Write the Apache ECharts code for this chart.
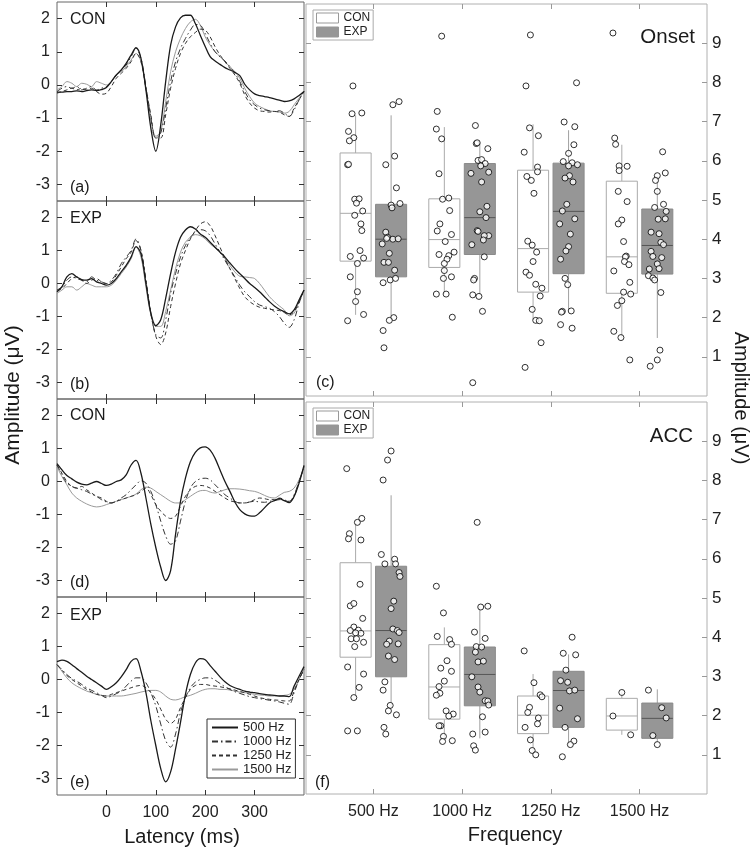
<!DOCTYPE html>
<html><head><meta charset="utf-8">
<script src="https://cdn.jsdelivr.net/npm/echarts@6/dist/echarts.min.js"></script>
<style>html,body{margin:0;padding:0;background:#fff}#c{width:753px;height:850px}</style>
</head><body><div id="c"></div><script>
const FONT = '"Liberation Sans", Arial, Helvetica, sans-serif';

// ---------- Waveforms (latency in ms, amplitude in µV) ----------
const latency = [-100,-90,-80,-70,-60,-50,-40,-30,-20,-10,0,10,20,30,40,50,60,70,80,90,100,110,120,130,140,150,160,170,180,190,200,210,220,230,240,250,260,270,280,290,300,310,320,330,340,350,360,370,380,390,400];
const freqNames = ['500 Hz','1000 Hz','1250 Hz','1500 Hz'];

// (a) CON onset
const conOnset500  = [-0.22,-0.22,-0.2,-0.2,-0.18,-0.2,-0.17,-0.15,-0.17,-0.14, -0.08,0.1,0.3,0.45,0.65,0.9,1.12,0.8,-0.15,-1.3, -2.0,-1.2,0.1,1.2,1.75,2.02,2.1,2.1,1.85,1.5, 1.16,0.85,0.72,0.62,0.52,0.45,0.38,0.28,0.02,-0.15, -0.27,-0.32,-0.35,-0.38,-0.42,-0.46,-0.5,-0.48,-0.42,-0.32, -0.2];
const conOnset1000 = [-0.2,-0.1,-0.05,-0.1,-0.05,-0.15,-0.1,-0.05,-0.15,-0.1, -0.05,0.1,0.3,0.45,0.6,0.85,1.1,0.8,-0.05,-1.0, -1.6,-1.45,-0.7,0.1,0.7,1.1,1.4,1.65,1.82,1.8, 1.55,1.25,1.0,0.85,0.72,0.55,0.35,0.1,-0.2,-0.45, -0.6,-0.7,-0.75,-0.78,-0.8,-0.78,-0.85,-0.95,-0.75,-0.45, -0.2];
const conOnset1250 = [-0.25,-0.2,-0.15,-0.1,-0.15,-0.1,-0.15,-0.1,-0.2,-0.28, -0.25,-0.05,0.2,0.35,0.5,0.7,0.95,0.7,-0.1,-0.9, -1.6,-1.6,-0.9,-0.1,0.5,0.95,1.25,1.45,1.58,1.68, 1.65,1.45,1.15,0.9,0.7,0.5,0.3,0.05,-0.3,-0.55, -0.7,-0.78,-0.8,-0.82,-0.8,-0.82,-0.9,-0.95,-0.7,-0.45, -0.2];
const conOnset1500 = [-0.15,-0.05,0.1,0.05,-0.05,0.05,0.02,-0.05,0.1,0.05, 0.0,0.1,0.3,0.4,0.55,0.75,0.95,0.7,-0.1,-1.0, -1.55,-1.4,-0.5,0.4,1.0,1.4,1.7,1.9,1.98,1.8, 1.45,1.2,1.0,0.85,0.7,0.55,0.4,0.2,-0.1,-0.35, -0.55,-0.65,-0.72,-0.78,-0.8,-0.82,-0.85,-0.8,-0.6,-0.4, -0.2];
// (b) EXP onset
const expOnset500  = [-0.25,-0.1,0.2,0.3,0.2,0.12,0.1,0.15,0.05,0.0, -0.05,0.0,0.15,0.35,0.55,0.8,1.12,0.9,0.0,-0.9, -1.28,-1.1,-0.45,0.3,0.95,1.4,1.62,1.72,1.65,1.5, 1.4,1.25,1.1,0.95,0.8,0.62,0.45,0.3,0.15,0.0, -0.12,-0.25,-0.4,-0.55,-0.68,-0.78,-0.85,-0.92,-0.8,-0.5, -0.2];
const expOnset1000 = [-0.2,-0.1,0.1,0.2,0.15,0.1,0.05,0.2,0.1,0.05, 0.0,0.1,0.3,0.6,0.8,1.0,1.35,1.0,0.1,-0.9, -1.55,-1.65,-1.1,-0.3,0.3,0.8,1.15,1.4,1.55,1.63, 1.6,1.45,1.2,0.95,0.7,0.45,0.2,-0.05,-0.25,-0.4, -0.55,-0.65,-0.7,-0.75,-0.85,-1.0,-1.2,-1.33,-1.1,-0.6, -0.2];
const expOnset1250 = [-0.2,-0.15,0.0,0.15,0.2,0.1,0.0,0.1,0.15,0.05, 0.0,0.05,0.25,0.5,0.75,0.95,1.3,1.0,0.1,-0.9, -1.6,-1.85,-1.5,-0.7,0.0,0.6,1.0,1.35,1.6,1.8, 1.87,1.75,1.45,1.1,0.75,0.45,0.15,-0.15,-0.4,-0.55, -0.65,-0.72,-0.75,-0.78,-0.8,-0.82,-0.88,-0.95,-0.85,-0.55, -0.2];
const expOnset1500 = [-0.3,-0.2,-0.1,-0.1,-0.2,-0.1,0.0,-0.05,-0.1,-0.1, -0.1,-0.05,0.1,0.3,0.5,0.75,1.1,0.8,-0.1,-0.95, -1.3,-1.3,-0.85,-0.2,0.45,0.95,1.25,1.4,1.48,1.45, 1.35,1.2,1.08,0.95,0.75,0.55,0.35,0.22,0.2,0.18, 0.15,0.0,-0.2,-0.4,-0.55,-0.68,-0.8,-0.98,-0.9,-0.55, -0.2];
// (d) CON ACC
const conAcc500  = [0.54,0.35,0.18,0.08,-0.02,-0.08,-0.1,-0.05,0.0,-0.06, -0.12,-0.08,0.0,0.05,0.2,0.5,0.64,0.25,-0.5,-1.3, -2.0,-2.6,-3.0,-2.7,-1.6,-0.6,0.1,0.6,0.88,1.02, 1.05,0.95,0.7,0.35,0.0,-0.3,-0.62,-0.85,-0.98,-1.04, -1.05,-0.95,-0.8,-0.65,-0.58,-0.52,-0.58,-0.64,-0.45,-0.05, 0.49];
const conAcc1000 = [0.5,0.2,-0.05,-0.15,-0.2,-0.25,-0.3,-0.38,-0.45,-0.55, -0.62,-0.65,-0.6,-0.5,-0.4,-0.25,-0.1,0.02,-0.05,-0.3, -0.7,-1.2,-1.65,-1.9,-1.8,-1.2,-0.6,-0.2,0.0,0.08, 0.1,0.05,-0.1,-0.25,-0.4,-0.5,-0.6,-0.65,-0.65,-0.62, -0.6,-0.62,-0.63,-0.6,-0.58,-0.55,-0.58,-0.6,-0.4,0.0, 0.45];
const conAcc1250 = [0.5,0.25,0.0,-0.15,-0.2,-0.15,-0.25,-0.35,-0.45,-0.5, -0.6,-0.65,-0.6,-0.55,-0.5,-0.45,-0.4,-0.3,-0.2,-0.4, -0.7,-0.9,-1.05,-1.12,-1.05,-0.75,-0.45,-0.25,-0.15,-0.12, -0.14,-0.2,-0.3,-0.4,-0.5,-0.58,-0.62,-0.65,-0.65,-0.62, -0.55,-0.5,-0.52,-0.55,-0.55,-0.5,-0.55,-0.62,-0.45,0.0, 0.45];
const conAcc1500 = [0.44,0.15,-0.1,-0.35,-0.5,-0.6,-0.68,-0.74,-0.77,-0.75, -0.7,-0.65,-0.6,-0.55,-0.5,-0.45,-0.38,-0.25,-0.17,-0.2, -0.3,-0.4,-0.5,-0.6,-0.65,-0.65,-0.55,-0.45,-0.35,-0.28, -0.27,-0.32,-0.35,-0.3,-0.25,-0.22,-0.22,-0.23,-0.25,-0.28, -0.3,-0.35,-0.42,-0.48,-0.5,-0.42,-0.33,-0.3,-0.2,0.05, 0.4];
// (e) EXP ACC
const expAcc500  = [0.54,0.59,0.55,0.45,0.33,0.22,0.1,0.0,-0.1,-0.2, -0.3,-0.22,-0.1,0.08,0.3,0.55,0.63,0.25,-0.4,-1.25, -2.0,-2.7,-3.1,-2.8,-2.1,-1.3,-0.45,0.15,0.5,0.63, 0.6,0.42,0.25,0.08,-0.07,-0.18,-0.25,-0.3,-0.35,-0.38, -0.4,-0.43,-0.45,-0.47,-0.48,-0.5,-0.5,-0.52,-0.2,0.1, 0.39];
const expAcc1000 = [0.45,0.3,0.15,0.03,-0.05,-0.15,-0.25,-0.33,-0.4,-0.48, -0.55,-0.5,-0.43,-0.35,-0.2,-0.05,0.05,0.05,-0.1,-0.4, -0.8,-1.35,-1.85,-2.05,-1.65,-1.0,-0.55,-0.25,-0.08,0.0, 0.05,0.05,-0.02,-0.12,-0.22,-0.3,-0.37,-0.42,-0.47,-0.52, -0.55,-0.58,-0.6,-0.63,-0.65,-0.68,-0.72,-0.75,-0.4,0.0, 0.3];
const expAcc1250 = [0.45,0.28,0.12,0.0,-0.1,-0.2,-0.3,-0.38,-0.45,-0.48, -0.5,-0.45,-0.4,-0.35,-0.3,-0.25,-0.2,-0.18,-0.25,-0.4, -0.6,-0.9,-1.2,-1.33,-1.2,-0.85,-0.55,-0.3,-0.18,-0.15, -0.15,-0.18,-0.2,-0.22,-0.25,-0.28,-0.32,-0.36,-0.4,-0.45, -0.5,-0.55,-0.58,-0.6,-0.62,-0.63,-0.65,-0.65,-0.35,0.0, 0.3];
const expAcc1500 = [0.45,0.25,0.05,-0.1,-0.2,-0.28,-0.35,-0.4,-0.45,-0.48, -0.5,-0.5,-0.5,-0.5,-0.48,-0.45,-0.42,-0.38,-0.35,-0.33, -0.33,-0.38,-0.5,-0.6,-0.62,-0.58,-0.52,-0.48,-0.42,-0.35, -0.3,-0.28,-0.28,-0.3,-0.3,-0.32,-0.35,-0.38,-0.4,-0.42, -0.45,-0.47,-0.48,-0.5,-0.5,-0.5,-0.48,-0.45,-0.3,0.0, 0.35];

// ---------- Box plots: [lowWhisker, Q1, median, Q3, highWhisker] per frequency ----------
const onsetConBox = [[2.07,3.44,4.66,6.2,7.16],[2.6,3.28,3.99,5.03,6.86],[1.94,2.65,3.76,5.76,6.93],[1.48,2.62,3.55,5.48,6.41]];
const onsetExpBox = [[2.0,3.04,4.0,4.89,7.16],[2.6,3.61,4.55,5.93,6.45],[2.18,3.12,4.71,5.94,6.78],[1.48,3.11,3.84,4.77,5.61]];
const accConBox   = [[2.47,3.49,4.16,5.9,6.9],[1.38,1.91,2.73,3.81,4.25],[1.04,1.54,2.01,2.5,3.06],[1.51,1.63,1.99,2.44,2.61]];
const accExpBox   = [[2.2,2.99,4.17,5.81,7.62],[1.42,2.25,3.05,3.75,4.78],[1.25,1.7,2.64,3.13,3.56],[1.3,1.42,1.93,2.32,2.67]];

// ---------- Individual points: [frequency axis coordinate (jittered), amplitude] ----------
const onsetConPts = [
[0.77,7.91],[0.76,7.2],[0.87,7.22],[0.72,6.75],[0.78,6.59],[0.73,6.51],[0.71,5.9],[0.72,5.91],[0.79,5.02],[0.84,5.03],[0.81,4.92],[0.88,4.72],[0.79,4.61],[0.86,4.39],[0.87,4.22],[0.85,3.71],[0.74,3.56],[0.89,3.52],[0.82,3.38],[0.74,3.04],[0.82,2.66],[0.8,2.41],[0.89,2.08],[0.71,1.92],
[1.77,9.18],[1.72,7.26],[1.71,6.81],[1.77,6.56],[1.74,5.67],[1.78,5.02],[1.85,5.05],[1.86,4.73],[1.75,4.39],[1.72,4.21],[1.88,4.12],[1.81,3.94],[1.91,3.67],[1.74,3.61],[1.85,3.58],[1.83,3.49],[1.8,3.38],[1.8,3.2],[1.79,3.0],[1.88,3.04],[1.71,2.6],[1.82,2.6],[1.89,2.01],
[2.77,9.21],[2.72,7.91],[2.76,6.84],[2.86,6.64],[2.7,6.22],[2.85,5.84],[2.85,5.72],[2.73,5.6],[2.78,5.5],[2.81,5.17],[2.74,3.95],[2.79,3.85],[2.84,3.67],[2.8,3.43],[2.72,3.16],[2.76,3.08],[2.83,2.85],[2.9,2.75],[2.88,2.55],[2.79,2.21],[2.83,1.93],[2.87,1.92],[2.89,1.36],[2.71,0.73],
[3.7,9.26],[3.72,6.58],[3.73,6.42],[3.77,5.87],[3.77,5.75],[3.86,5.86],[3.76,5.22],[3.86,4.96],[3.8,4.49],[3.76,4.39],[3.82,3.94],[3.85,3.57],[3.84,3.55],[3.83,3.43],[3.88,3.35],[3.71,3.19],[3.89,2.9],[3.82,2.65],[3.9,2.6],[3.8,2.43],[3.75,2.31],[3.71,1.65],[3.79,1.49],[3.89,0.92]
];
const onsetExpPts = [
[1.22,7.43],[1.29,7.51],[1.24,6.12],[1.14,5.9],[1.26,5.31],[1.2,4.87],[1.21,4.8],[1.3,4.91],[1.14,4.18],[1.16,4.05],[1.1,3.88],[1.22,4.0],[1.28,4.01],[1.15,4.02],[1.18,3.64],[1.12,3.41],[1.17,3.41],[1.24,3.21],[1.11,2.89],[1.19,2.96],[1.25,3.0],[1.23,2.0],[1.18,1.93],[1.11,1.67],[1.12,1.23],
[2.15,6.9],[2.16,6.44],[2.17,6.46],[2.29,6.31],[2.18,6.01],[2.22,6.03],[2.26,5.93],[2.21,5.87],[2.1,5.68],[2.3,5.71],[2.22,5.46],[2.28,4.84],[2.2,4.7],[2.27,4.55],[2.17,4.22],[2.18,4.2],[2.3,4.09],[2.25,4.09],[2.24,3.98],[2.11,3.86],[2.25,3.55],[2.14,3.0],[2.13,2.96],[2.12,2.58],[2.19,2.54],[2.23,2.16],[2.12,0.34],
[3.29,7.99],[3.15,6.99],[3.27,6.87],[3.26,6.41],[3.2,6.19],[3.14,5.98],[3.24,5.95],[3.3,5.9],[3.2,5.87],[3.21,5.62],[3.16,5.56],[3.25,5.46],[3.18,4.89],[3.13,4.72],[3.1,4.39],[3.27,4.52],[3.22,4.13],[3.2,3.81],[3.17,3.7],[3.11,3.49],[3.16,3.0],[3.19,2.84],[3.13,2.16],[3.12,2.14],[3.23,2.17],[3.11,1.82],[3.24,1.73],
[4.26,6.23],[4.29,5.69],[4.2,5.62],[4.18,5.5],[4.2,5.22],[4.27,4.89],[4.17,4.81],[4.3,4.71],[4.21,4.51],[4.29,4.52],[4.13,4.18],[4.22,4.14],[4.24,3.92],[4.27,3.86],[4.13,3.69],[4.15,3.56],[4.25,3.53],[4.2,3.37],[4.22,3.25],[4.11,3.24],[4.1,3.07],[4.15,3.01],[4.17,2.96],[4.24,2.64],[4.23,1.17],[4.2,0.92],[4.12,0.76]
];
const accConPts = [
[0.7,8.3],[0.82,6.93],[0.87,7.03],[0.73,6.64],[0.72,6.51],[0.86,6.48],[0.85,5.35],[0.74,4.8],[0.78,4.86],[0.88,4.48],[0.78,4.26],[0.83,4.18],[0.74,4.17],[0.86,4.1],[0.8,4.11],[0.75,3.96],[0.81,3.96],[0.89,3.87],[0.79,3.76],[0.71,3.24],[0.89,3.06],[0.84,2.72],[0.78,2.46],[0.71,1.61],[0.82,1.61],
[1.71,5.3],[1.79,4.62],[1.72,4.02],[1.86,3.94],[1.88,3.82],[1.83,3.4],[1.76,3.21],[1.88,3.13],[1.8,2.88],[1.74,2.74],[1.75,2.57],[1.71,2.52],[1.82,2.12],[1.9,2.04],[1.85,1.99],[1.76,1.74],[1.74,1.74],[1.79,1.47],[1.89,1.36],[1.78,1.34],
[2.7,3.65],[2.81,2.84],[2.88,2.53],[2.9,2.48],[2.76,2.21],[2.74,2.08],[2.86,1.94],[2.85,1.79],[2.71,1.7],[2.77,1.38],[2.79,1.11],[2.83,1.0],
[3.8,2.59],[3.7,1.99],[3.9,1.51]
];
const accExpPts = [
[1.2,8.75],[1.16,8.52],[1.11,8.01],[1.09,6.11],[1.13,5.87],[1.24,5.99],[1.25,5.87],[1.29,5.65],[1.3,5.55],[1.23,4.92],[1.2,4.73],[1.22,4.21],[1.27,4.17],[1.29,4.12],[1.18,3.9],[1.15,3.82],[1.28,3.83],[1.17,3.52],[1.24,3.43],[1.13,2.86],[1.11,2.65],[1.19,2.26],[1.17,2.12],[1.26,2.02],[1.12,1.7],[1.14,1.53],
[2.17,6.93],[2.29,4.79],[2.21,4.77],[2.14,4.13],[2.26,3.97],[2.16,3.76],[2.22,3.75],[2.15,3.62],[2.18,3.37],[2.24,3.39],[2.11,2.99],[2.18,2.73],[2.2,2.6],[2.26,2.38],[2.29,2.37],[2.3,2.27],[2.23,1.97],[2.12,1.53],[2.26,1.58],[2.13,1.23],[2.15,1.12],
[3.24,4.0],[3.14,3.59],[3.28,3.55],[3.17,3.16],[3.11,2.89],[3.19,2.85],[3.21,2.63],[3.27,2.65],[3.1,2.19],[3.3,1.92],[3.16,1.7],[3.26,1.35],[3.22,1.26],[3.13,0.95],
[4.1,2.65],[4.25,2.2],[4.3,1.94],[4.15,1.49],[4.2,1.26]
];

const latTicks = [0,100,200,300];
const ampTicksL = [-3,-2,-1,0,1,2];
const ampTicksR = [1,2,3,4,5,6,7,8,9];
const freqTicks = [1,2,3,4];

// ---------- layout ----------
const grids = [
  {left:57, top:2,   width:247, height:199},
  {left:57, top:201, width:247, height:198},
  {left:57, top:399, width:247, height:198},
  {left:57, top:597, width:247, height:198},
  {left:306, top:4,  width:401, height:392},
  {left:306, top:402, width:401, height:392}
].map((g,i)=>Object.assign(g,{show:true, borderColor: i<4?'#666':'#b0b0b0', borderWidth:1}));

const xAxes=[], yAxes=[];
for (let g=0; g<6; g++){
  const left = g<4;
  const tickCol = left ? '#333' : '#999';
  const xBase = left ? {min:-100,max:400} : {min:0.241,max:4.76};
  const xt = left ? latTicks : freqTicks;
  ['bottom','top'].forEach((pos,k)=>{
    xAxes.push(Object.assign({gridIndex:g, type:'value', position:pos,
      axisLine:{show:false, onZero:false}, splitLine:{show:false},
      axisTick:{show:true, inside:true, length:5, customValues:xt, lineStyle:{color:tickCol, width:1}},
      axisLabel:{show: k===0 && (g===3||g===5), customValues:xt, margin:10,
        fontSize:16, color:'#222', fontFamily:FONT,
        formatter: left ? (v=>String(v)) : (v=>freqNames[Math.round(v)-1])}
    }, xBase));
  });
  const yBase = left ? {min:-3.5,max:2.5} : {min:0,max:10};
  const yt = left ? ampTicksL : ampTicksR;
  ['left','right'].forEach((pos,k)=>{
    const showLab = left ? k===0 : k===1;
    yAxes.push(Object.assign({gridIndex:g, type:'value', position:pos,
      axisLine:{show:false, onZero:false}, splitLine:{show:false},
      axisTick:{show:true, inside:true, length:5, customValues:yt, lineStyle:{color:tickCol, width:1}},
      axisLabel:{show:showLab, customValues:yt, margin: left?7:5, fontSize: left?16:17, color:'#222', fontFamily:FONT}
    }, yBase));
  });
}

// ---------- series ----------
const lineStyles = [
  {color:'#1a1a1a', width:1.3, type:'solid'},
  {color:'#333', width:1, type:[6,3,1.5,3]},
  {color:'#333', width:1, type:[4,3]},
  {color:'#9a9a9a', width:1, type:'solid'}
];
const waveSets = [
  [conOnset500, conOnset1000, conOnset1250, conOnset1500],
  [expOnset500, expOnset1000, expOnset1250, expOnset1500],
  [conAcc500, conAcc1000, conAcc1250, conAcc1500],
  [expAcc500, expAcc1000, expAcc1250, expAcc1500]
];
const series = [];
waveSets.forEach((set,g)=>{
  set.forEach((arr,f)=>{
    series.push({type:'line', name:freqNames[f], xAxisIndex:2*g, yAxisIndex:2*g,
      data: latency.map((t,i)=>[t,arr[i]]), showSymbol:false, symbol:'none', smooth:0.35,
      lineStyle:lineStyles[f], itemStyle:{color:lineStyles[f].color}, z: 4-f, silent:true});
  });
});

function boxSeries(name, g, box, offset, fill, border, med, whisk){
  return {type:'custom', name, xAxisIndex:2*g, yAxisIndex:2*g+1, z:2,
    itemStyle:{color:fill, borderColor:border},
    data: box.map((r,i)=>[i+1].concat(r)),
    encode:{x:0, y:[1,2,3,4,5]},
    renderItem:(params, api)=>{
      const c = api.value(0)+offset;
      const lo=api.coord([c,api.value(1)]), q1=api.coord([c,api.value(2)]), md=api.coord([c,api.value(3)]),
            q3=api.coord([c,api.value(4)]), hi=api.coord([c,api.value(5)]);
      const w = api.size([0.35,0])[0];
      const x0 = q1[0]-w/2;
      return {type:'group', children:[
        {type:'line', shape:{x1:lo[0],y1:lo[1],x2:q1[0],y2:q1[1]}, style:{stroke:whisk, lineWidth:1}},
        {type:'line', shape:{x1:q3[0],y1:q3[1],x2:hi[0],y2:hi[1]}, style:{stroke:whisk, lineWidth:1}},
        {type:'rect', shape:{x:x0,y:q3[1],width:w,height:q1[1]-q3[1]}, style:{fill:fill, stroke:border, lineWidth:1}},
        {type:'line', shape:{x1:x0,y1:md[1],x2:x0+w,y2:md[1]}, style:{stroke:med, lineWidth:1}}
      ]};
    }};
}
series.push(boxSeries('CON',4,onsetConBox,-0.2,'#ffffff','#aaaaaa','#aaaaaa','#aaaaaa'));
series.push(boxSeries('EXP',4,onsetExpBox, 0.2,'#969696','#8a8a8a','#555555','#a0a0a0'));
series.push(boxSeries('CON',5,accConBox,-0.2,'#ffffff','#aaaaaa','#aaaaaa','#aaaaaa'));
series.push(boxSeries('EXP',5,accExpBox, 0.2,'#969696','#8a8a8a','#555555','#a0a0a0'));

function ptSeries(g, pts){
  return {type:'scatter', name:'pts', xAxisIndex:2*g, yAxisIndex:2*g+1, data:pts, symbol:'circle', symbolSize:6,
    itemStyle:{color:'#ffffff', borderColor:'#000000', borderWidth:1}, z:5, silent:true};
}
series.push(ptSeries(4,onsetConPts), ptSeries(4,onsetExpPts), ptSeries(5,accConPts), ptSeries(5,accExpPts));

// ---------- legends ----------
const boxLegendData = [
  {name:'CON', icon:'rect', itemStyle:{color:'#ffffff', borderColor:'#999', borderWidth:1}},
  {name:'EXP', icon:'rect', itemStyle:{color:'#969696', borderColor:'#969696', borderWidth:1}}
];
const boxLegend = top => ({left:313, top, orient:'vertical', data:boxLegendData, itemWidth:22, itemHeight:10,
  itemGap:2, padding:[2,3,2,3], borderColor:'#aaa', borderWidth:1, selectedMode:false,
  textStyle:{fontSize:12, color:'#222', fontFamily:FONT}});
const legends = [
  boxLegend(10), boxLegend(408),
  {left:207, top:719, orient:'vertical', data:freqNames, itemWidth:26, itemHeight:10, itemGap:1,
   padding:[2,4,2,4], borderColor:'#333', borderWidth:1, selectedMode:false,
   itemStyle:{opacity:0},
   textStyle:{fontSize:13, color:'#222', fontFamily:FONT}}
];

// ---------- text annotations ----------
function txt(x,y,text,size,opt){
  return Object.assign({type:'text', x, y, z:10, style:{text, fontSize:size, fontFamily:FONT, fill:'#1a1a1a',
    textAlign:(opt&&opt.align)||'left', textVerticalAlign:'middle'}}, opt&&opt.rot!==undefined?{rotation:opt.rot}:{});
}
const graphics = [
  txt(70,20,'CON',16), txt(70,188,'(a)',16),
  txt(70,219,'EXP',16), txt(70,385,'(b)',16),
  txt(70,416,'CON',16), txt(70,583,'(d)',16),
  txt(70,616,'EXP',16), txt(70,783,'(e)',16),
  txt(316,383,'(c)',16), txt(315,783,'(f)',16),
  txt(695,37,'Onset',20.5,{align:'right'}), txt(693,436,'ACC',20.5,{align:'right'}),
  txt(182,837,'Latency (ms)',20,{align:'center'}),
  txt(515,835,'Frequency',20,{align:'center'}),
  txt(13,395,'Amplitude (μV)',21,{align:'center', rot:Math.PI/2}),
  txt(741,398,'Amplitude (μV)',20,{align:'center', rot:-Math.PI/2})
];

const chart = echarts.init(document.getElementById('c'));
chart.setOption({
  animation:false, backgroundColor:'#ffffff',
  textStyle:{fontFamily:FONT},
  grid:grids, xAxis:xAxes, yAxis:yAxes, legend:legends, series, graphic:graphics
});
</script></body></html>
